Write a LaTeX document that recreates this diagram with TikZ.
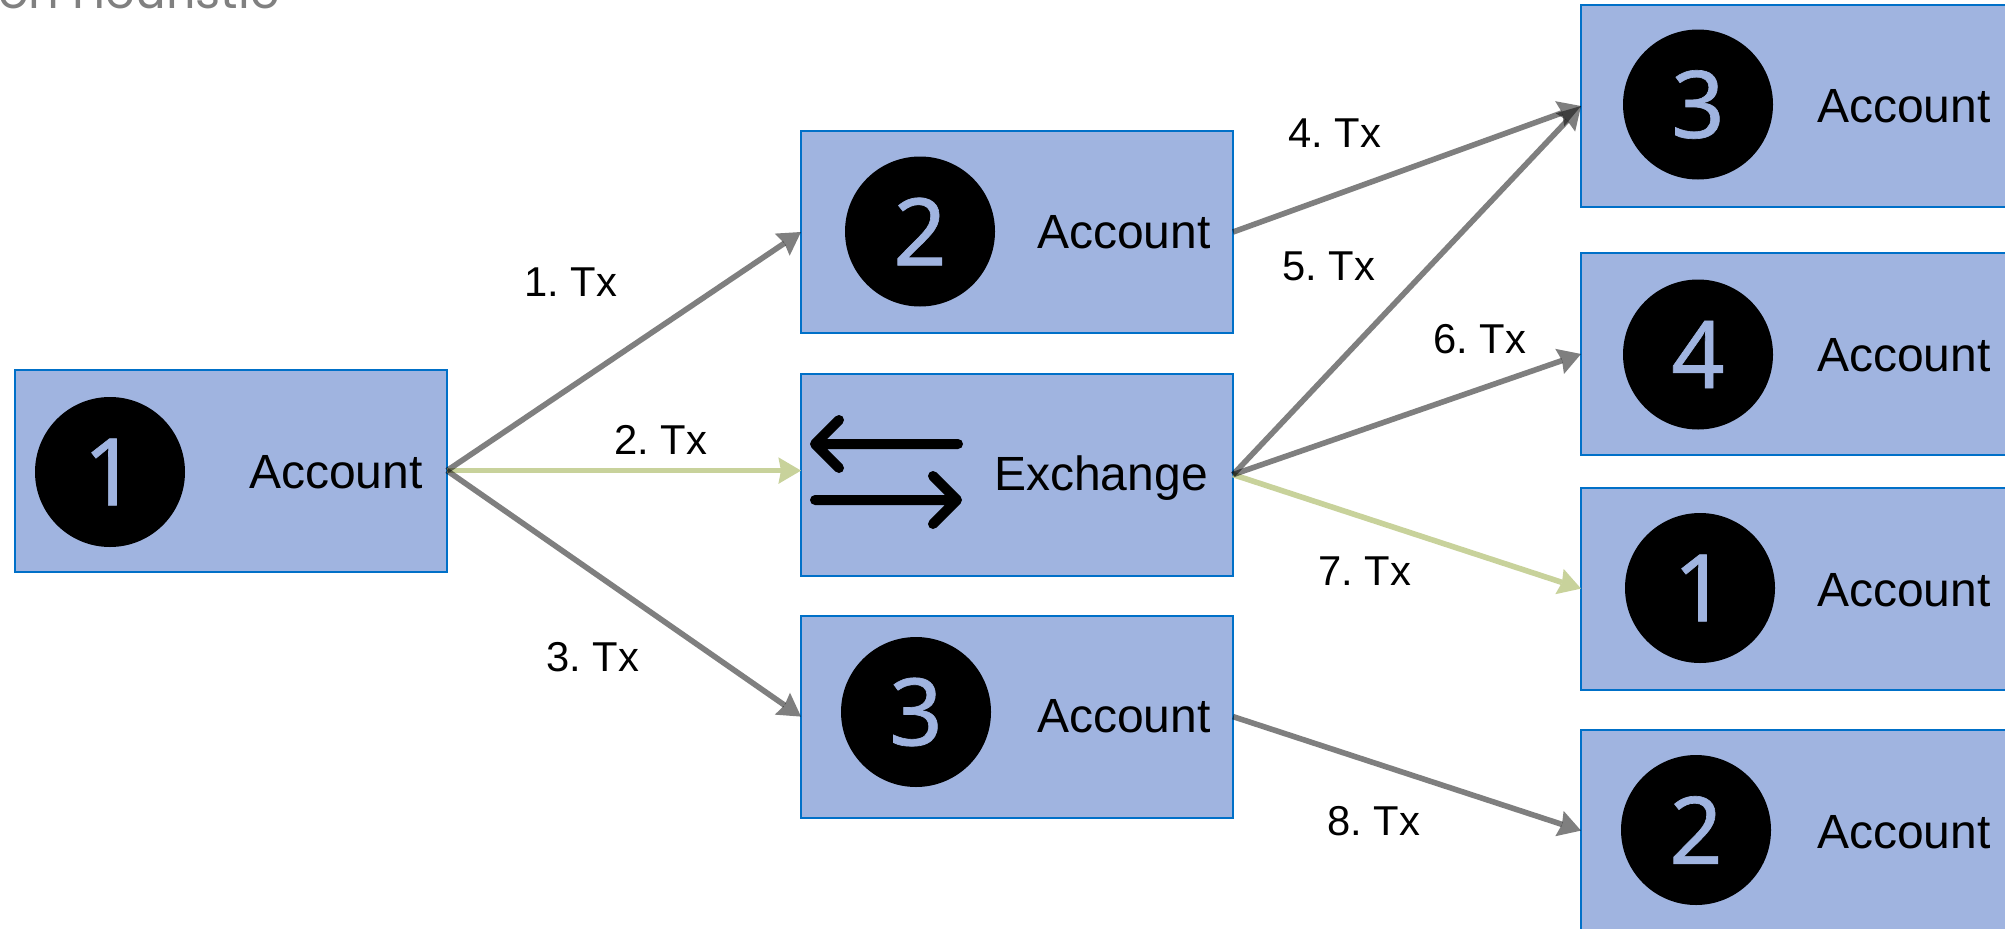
\documentclass[tikz,border=0pt]{standalone}
\usepackage{fontspec}
\setmainfont{Liberation Sans}
\newfontfamily\digitfont[FakeBold=0.7]{Noto Sans}
\newfontfamily\titlefont{Poppins}
\usetikzlibrary{arrows.meta}
\definecolor{boxfill}{RGB}{160,180,224}
\definecolor{boxline}{RGB}{0,112,200}
\definecolor{oliveline}{RGB}{200,210,155}
\begin{document}
\begin{tikzpicture}[x=0.75pt,y=0.75pt,yscale=-1,xscale=1,
    accbox/.style={draw=boxline,fill=boxfill,line width=1.4pt,minimum width=324pt,minimum height=151.5pt,inner sep=0pt,outer sep=0pt,anchor=north west},
    numdisc/.style={circle,fill=black,minimum size=112.5pt,inner sep=0pt,text=boxfill,font=\digitfont\fontsize{70}{70}\selectfont},
    boxtext/.style={anchor=base west,inner sep=0pt,font=\fontsize{36}{36}\selectfont},
    txtext/.style={anchor=base west,inner sep=0pt,font=\fontsize{31.3}{31.3}\selectfont\frenchspacing},
    txline/.style={draw=black,opacity=0.5,line width=4.2pt,-{Stealth[length=17pt,width=20pt,inset=2pt,line width=0pt]}},
    txgreen/.style={draw=oliveline,line width=4.2pt,-{Stealth[length=17pt,width=20pt,inset=2pt,line width=0pt]}},
    swaparrow/.style={line width=7.5pt,line cap=round,line join=round}]
    \clip (0,0) rectangle (2005,928);
    \node (title) at (-2,8) [anchor=base west,inner sep=0pt,text=black!50,font=\titlefont\fontsize{36}{36}\selectfont] {on Heuristic};
    \node (from1) at (15,369.6) [accbox] {};
    \node (mid2) at (801,131) [accbox] {};
    \node (exch) at (801,373.6) [accbox] {};
    \node (mid3) at (801,615.6) [accbox] {};
    \node (to3) at (1581,5) [accbox] {};
    \node (to4) at (1581,253) [accbox] {};
    \node (to1) at (1581,487.6) [accbox] {};
    \node (to2) at (1581,729.6) [accbox] {};
    \node (disc1) at (110,472) [numdisc] {1};
    \node (disc2) at (920,231.5) [numdisc] {2};
    \node (disc3) at (916,712) [numdisc] {3};
    \node (disc4) at (1698,104.5) [numdisc] {3};
    \node (disc5) at (1698,354.5) [numdisc] {4};
    \node (disc6) at (1700,588) [numdisc] {1};
    \node (disc7) at (1696,830) [numdisc] {2};
    \node (acc1) at (249,488.5) [boxtext] {Account};
    \node (acc2) at (1037,248.5) [boxtext] {Account};
    \node (acc3) at (1037,732.5) [boxtext] {Account};
    \node (acc4) at (1817,122.5) [boxtext] {Account};
    \node (acc5) at (1817,371.5) [boxtext] {Account};
    \node (acc6) at (1817,606) [boxtext] {Account};
    \node (acc7) at (1817,848) [boxtext] {Account};
    \node (exname) at (994,490) [boxtext] {Exchange};
    \draw [swaparrow] (958,444) -- (815,444) (839,420) -- (815,444) -- (839,468);
    \draw [swaparrow] (815,500) -- (957,500) (933,476) -- (957,500) -- (933,524);
    \draw [txgreen] (from1.east) -- (from1.east -| exch.west);
    \draw [txgreen] (exch.east) -- (to1.west);
    \draw [txline] (from1.east) -- (mid2.west);
    \draw [txline] (from1.east) -- (mid3.west);
    \draw [txline] (mid2.east) -- (to3.west);
    \draw [txline] (exch.east) -- (to3.west);
    \draw [txline] (exch.east) -- (to4.west);
    \draw [txline] (mid3.east) -- (to2.west);
    \node (tx1) at (524,296) [txtext] {1. Tx};
    \node (tx2) at (614,454) [txtext] {2. Tx};
    \node (tx3) at (546,671) [txtext] {3. Tx};
    \node (tx4) at (1288,147) [txtext] {4. Tx};
    \node (tx5) at (1282,280) [txtext] {5. Tx};
    \node (tx6) at (1433,353) [txtext] {6. Tx};
    \node (tx7) at (1318,585) [txtext] {7. Tx};
    \node (tx8) at (1327,835) [txtext] {8. Tx};
\end{tikzpicture}
\end{document}
